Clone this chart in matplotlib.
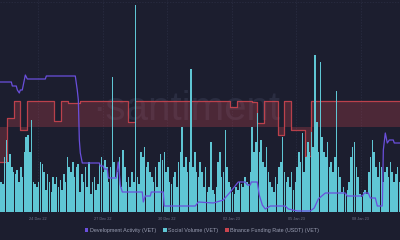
import matplotlib
matplotlib.use('Agg')
import matplotlib.pyplot as plt
from matplotlib.patches import Patch
import pandas as pd

# ---------------- data ----------------
start = pd.Timestamp('2022-12-22 06:00')

# Social Volume (VET), 2-hour bins starting at `start`
social_volume = [
    30, 28, 55, 72, 50, 58, 45, 40, 38, 42,
    30, 45, 35, 60, 75, 77, 60, 92, 30, 28,
    25, 30, 50, 48, 40, 22, 38, 30, 20, 35,
    28, 35, 25, 32, 22, 38, 30, 55, 45, 40,
    50, 35, 45, 48, 20, 38, 30, 45, 25, 50,
    18, 30, 35, 22, 28, 48, 55, 40, 52, 45,
    30, 45, 135, 50, 35, 40, 55, 25, 62, 45,
    30, 35, 25, 40, 30, 207, 35, 28, 60, 55,
    65, 45, 50, 40, 35, 30, 45, 25, 50, 58,
    52, 60, 40, 45, 30, 28, 35, 40, 25, 50,
    60, 85, 45, 55, 40, 50, 143, 45, 60, 40,
    35, 50, 40, 25, 45, 20, 25, 70, 22, 18,
    25, 50, 60, 35, 40, 82, 45, 30, 25, 20,
    18, 25, 22, 30, 28, 25, 35, 30, 28, 40,
    85, 60, 70, 99, 60, 72, 50, 45, 65, 40,
    30, 25, 20, 35, 28, 45, 50, 75, 40, 30,
    35, 25, 40, 22, 30, 45, 60, 50, 79, 40,
    55, 70, 60, 80, 65, 157, 90, 60, 150, 75,
    60, 55, 70, 45, 50, 40, 55, 121, 45, 35,
    20, 25, 18, 22, 30, 55, 65, 70, 45, 35,
    18, 15, 20, 22, 18, 40, 55, 72, 60, 45,
    35, 50, 45, 30, 40, 45, 35, 50, 40, 30,
    38, 45, 30,
]

# Development Activity (VET): hours after `start`, values
dev_hours = [0, 12.3, 13.4, 17.8, 19.0, 21.2, 22.3, 24.5, 27.9, 30.1,
             50.2, 51.3, 83.6, 85.8, 87.0, 88.1, 89.2, 91.4, 110.4, 111.5,
             114.8, 115.9, 119.3, 120.4, 129.3, 131.5, 133.8, 136.0, 158.3, 159.4,
             161.6, 167.2, 168.3, 181.7, 182.8, 217.4, 220.7, 237.5, 248.6, 256.4,
             265.3, 273.1, 275.4, 278.7, 279.8, 286.5, 288.7, 292.1, 295.4, 301.0,
             317.7, 321.1, 331.1, 345.6, 350.0, 354.5, 362.3, 384.6, 386.8, 403.6,
             405.8, 410.2, 412.5, 418.1, 420.3, 425.9, 427.0, 429.2, 431.4, 433.7,
             438.1, 439.2, 445.9]
dev_values = [130, 130, 126, 126, 122, 119, 122, 122, 137, 133,
              133, 136, 136, 122, 112, 72, 59, 49, 49, 46,
              46, 43, 43, 34, 34, 50, 27, 20, 20, 10,
              16, 16, 20, 20, 6, 6, 10, 9, 12, 20,
              30, 30, 27, 27, 30, 30, 17, 7, 3, 6,
              6, 3, 1, 1, 4, 13, 19, 19, 16, 16,
              19, 19, 14, 14, 6, 6, 62, 79, 69, 72,
              72, 69, 69]

# Binance Funding Rate (USDT) (VET): change points (hours after `start`)
fund_hours = [0, 7.2, 14.8, 22.3, 29.5, 59.6, 67.4, 75.2, 88.6, 142.7,
              150.5, 256.4, 264.2, 280.9, 285.9, 294.3, 309.4, 316.6, 323.8, 339.5,
              346.7, 446.0]
fund_values = [-0.0135, 0.0035, 0.0100, -0.0012, 0.0100, 0.0023, 0.0100, 0.0093, 0.0100, 0.0019,
               0.0100, 0.0078, 0.0100, 0.0096, 0.0017, 0.0100, -0.0031, 0.0100, -0.0012, -0.0112,
               0.0100, 0.0100]

tick_dates = ['2022-12-24', '2022-12-27', '2022-12-30', '2023-01-02', '2023-01-05', '2023-01-08']
tick_labels = ['24 Dec 22', '27 Dec 22', '30 Dec 22', '02 Jan 23', '05 Jan 23', '08 Jan 23']

# ---------------- style ----------------
BG = '#1c1e2f'
C_DEV = '#6a4fdc'
C_SV = '#5fc6d4'
C_FR = '#c9444f'
GRID = '#2b2e44'
TXT = '#9a9eb3'
TICK = '#70748a'

plt.rcParams['font.family'] = ['Liberation Sans', 'DejaVu Sans']

fig = plt.figure(figsize=(4, 2.4), dpi=100, facecolor=BG)
ax = fig.add_axes([0, 28 / 240, 1, 212 / 240])
ax.set_facecolor(BG)

sv_times = [start + pd.Timedelta(hours=2 * i) for i in range(len(social_volume))]
dev_times = [start + pd.Timedelta(hours=h) for h in dev_hours]
fund_times = [start + pd.Timedelta(hours=h) for h in fund_hours]

x_left = start - pd.Timedelta(minutes=20)
x_right = x_left + pd.Timedelta(days=18.58)

# funding rate axis (drawn first, behind)
axf = ax.twinx()
axf.set_zorder(1)
ax.set_zorder(2)
ax.patch.set_visible(False)
axf.patch.set_visible(False)

# watermark (behind everything in the plot)
axf.text(186 / 400, 1 - 120 / 240, '\u00b7santiment', fontsize=29, color='#2a2d41',
         ha='center', va='baseline', zorder=0.2, transform=fig.transFigure)

axf.fill_between(fund_times, fund_values, 0, step='post', color=C_FR, alpha=0.28, linewidth=0,
                 zorder=1)
axf.step(fund_times, fund_values, where='post', color=C_FR, lw=0.9, alpha=0.9, zorder=5)
axf.set_ylim(-0.03269, 0.04885)

# grid on the back axis
for d in tick_dates:
    axf.axvline(pd.Timestamp(d), color=GRID, lw=0.5, ls=(0, (2, 2)), zorder=0.1)
axf.axhline(0.0479, color=GRID, lw=0.5, ls=(0, (2, 2)), zorder=0.1)

# social volume bars
ax.bar(sv_times, social_volume, width=pd.Timedelta(hours=2 * 0.85), align='edge',
       color=C_SV, linewidth=0, zorder=3)
ax.set_ylim(0, 212)

# development activity line
axd = ax.twinx()
axd.set_zorder(3)
axd.patch.set_visible(False)
axd.plot(dev_times, dev_values, color=C_DEV, lw=0.9)
axd.set_ylim(0, 212)

for a in (ax, axf, axd):
    a.set_xlim(x_left, x_right)
    for s in a.spines.values():
        s.set_visible(False)
    a.set_yticks([])

axf.set_xticks([])
axd.set_xticks([])
ax.set_xticks([pd.Timestamp(d) for d in tick_dates])
ax.set_xticklabels(tick_labels, fontsize=2.8, color=TICK)
ax.tick_params(axis='x', length=0, pad=3.5)

handles = [Patch(facecolor=C_DEV, edgecolor='none', label='Development Activity (VET)'),
           Patch(facecolor=C_SV, edgecolor='none', label='Social Volume (VET)'),
           Patch(facecolor=C_FR, edgecolor='none', label='Binance Funding Rate (USDT) (VET)')]
leg = fig.legend(handles=handles, loc='center', bbox_to_anchor=(202 / 400, 1 - 230.5 / 240),
                 ncol=3, frameon=False, fontsize=3.9, labelcolor=TXT,
                 handlelength=0.7, handleheight=0.7, handletextpad=0.3, columnspacing=1.2,
                 borderpad=0, borderaxespad=0)

fig.savefig('out.png', dpi=100, facecolor=BG)
